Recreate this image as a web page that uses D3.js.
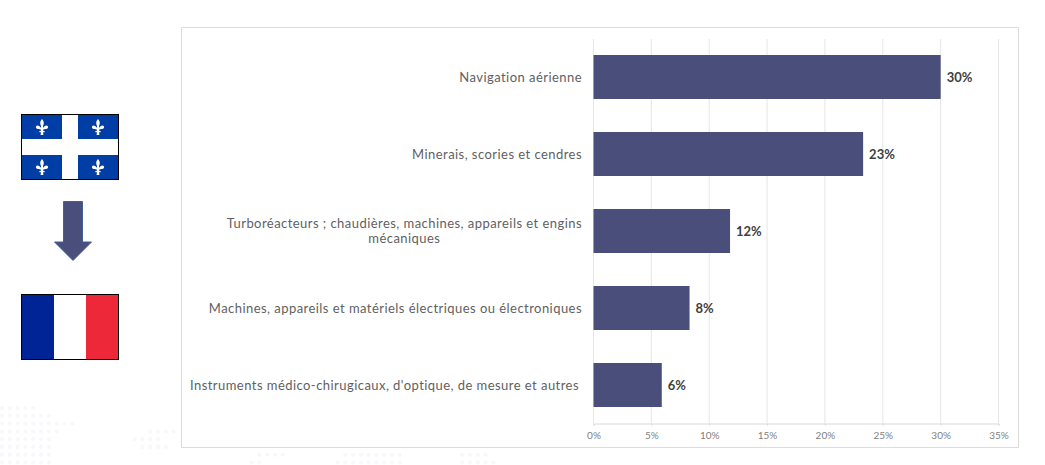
<!DOCTYPE html>
<html>
<head>
<meta charset="utf-8">
<script src="https://cdn.jsdelivr.net/npm/d3@7"></script>
<style>
  html, body { margin: 0; padding: 0; background: #fff; }
  svg { display: block; font-family: Lato, "Open Sans", sans-serif; }
</style>
</head>
<body>
<div id="chart"></div>
<script>
// Chart data
const categories = [
  "Navigation aérienne",
  "Minerais, scories et cendres",
  "Turboréacteurs ; chaudières, machines, appareils et engins mécaniques",
  "Machines, appareils et matériels électriques ou électroniques",
  "Instruments médico-chirugicaux, d'optique, de mesure et autres"
];
const shares = [0.30, 0.233, 0.118, 0.083, 0.059];
const xTicks = [0, 0.05, 0.10, 0.15, 0.20, 0.25, 0.30, 0.35];

// faint dotted decoration behind the page: [row, first dot, last dot]
const dotRows = [
  [0, 0, 4], [1, 0, 6], [2, 0, 9], [3, 0, 7], [4, 0, 6], [5, 0, 6], [6, 0, 6], [7, 0, 6],
  [3, 19, 22], [4, 17, 20], [5, 18, 21],
  [6, 33, 36], [7, 32, 33], [6, 44, 51], [7, 43, 51], [6, 59, 62], [7, 59, 63]
];

const width = 1045, height = 465;
const svg = d3.select("#chart").append("svg").attr("width", width).attr("height", height);

// Decoration
const dots = dotRows.flatMap(([r, a, b]) => d3.range(a, b + 1).map(i => [i, r]));
svg.append("g").selectAll("circle").data(dots).join("circle")
  .attr("cx", d => 2 + d[0] * 7.8)
  .attr("cy", d => 408 + d[1] * 7.8)
  .attr("r", 2)
  .attr("fill", "#f7f7fc");

// Flags and arrow on the left
const flags = svg.append("g");
const fleur = "M0,-8 C2.2,-5.5 2.2,-3.5 1,-1 L1,1 C2,-1 5,-2.5 6,-0.5 C6.6,1 5,2.5 3.5,2 L1.2,2.6 L1.2,4 L2.6,4 L2.6,5.2 L1,5.2 L1.4,8 L-1.4,8 L-1,5.2 L-2.6,5.2 L-2.6,4 L-1.2,4 L-1.2,2.6 L-3.5,2 C-5,2.5 -6.6,1 -6,-0.5 C-5,-2.5 -2,-1 -1,1 L-1,-1 C-2.2,-3.5 -2.2,-5.5 0,-8 Z";

flags.append("rect").attr("x", 21.5).attr("y", 114.5).attr("width", 97).attr("height", 65).attr("fill", "#003da5");
flags.append("rect").attr("x", 62).attr("y", 114.5).attr("width", 16).attr("height", 65).attr("fill", "#fff");
flags.append("rect").attr("x", 21.5).attr("y", 139).attr("width", 97).attr("height", 16).attr("fill", "#fff");
for (const cx of [42, 98]) {
  for (const cy of [127, 167]) {
    flags.append("path").attr("d", fleur).attr("transform", `translate(${cx},${cy})`).attr("fill", "#fff");
  }
}
flags.append("rect").attr("x", 21.5).attr("y", 114.5).attr("width", 97).attr("height", 65)
  .attr("fill", "none").attr("stroke", "#000");

flags.append("path")
  .attr("d", "M63.5,201.5 H82.5 V242 H91.5 L73,260.5 L54.5,242 H63.5 Z")
  .attr("fill", "#4a4e7a").attr("stroke", "#41609a");

flags.append("rect").attr("x", 21.5).attr("y", 294.5).attr("width", 32.5).attr("height", 65).attr("fill", "#002395");
flags.append("rect").attr("x", 86).attr("y", 294.5).attr("width", 32.5).attr("height", 65).attr("fill", "#ed2939");
flags.append("rect").attr("x", 21.5).attr("y", 294.5).attr("width", 97).attr("height", 65)
  .attr("fill", "none").attr("stroke", "#000");

// Chart panel
svg.append("rect").attr("x", 181.5).attr("y", 27.5).attr("width", 837).attr("height", 420)
  .attr("fill", "#fff").attr("stroke", "#dcdcdc");

const x = d3.scaleLinear().domain([0, 0.35]).range([593.5, 998.5]);
const y = d3.scaleBand().domain(categories).range([38.5, 423.5]).paddingInner(33 / 77).paddingOuter(33 / 154);

// Gridlines
svg.append("g").selectAll("line").data(xTicks).join("line")
  .attr("x1", d => x(d)).attr("x2", d => x(d))
  .attr("y1", 39).attr("y2", 423)
  .attr("stroke", "#e6e6e6");

// X axis
const xAxis = svg.append("g").attr("transform", "translate(0,423.5)")
  .call(d3.axisBottom(x).tickValues(xTicks).tickFormat(d3.format(".0%")).tickSize(2).tickPadding(6))
  .attr("font-family", null);
xAxis.selectAll("path, line").attr("stroke", "#d9d9d9");
xAxis.selectAll("text").attr("fill", "#7f7f7f").style("font-size", "10px");

// Bars
svg.append("g").selectAll("rect").data(categories).join("rect")
  .attr("x", x(0))
  .attr("y", d => y(d))
  .attr("width", (d, i) => x(shares[i]) - x(0))
  .attr("height", y.bandwidth())
  .attr("fill", "#4a4e7a");

// Value labels
svg.append("g").selectAll("text").data(categories).join("text")
  .attr("x", (d, i) => x(shares[i]) + 6)
  .attr("y", d => y(d) + y.bandwidth() / 2)
  .attr("dy", "0.35em")
  .attr("fill", "#404040")
  .style("font-size", "13px")
  .style("font-weight", 700)
  .text((d, i) => d3.format(".0%")(shares[i]));

// Category labels; the long one wraps, second line centred under the first
const labelStyle = s => s.attr("fill", "#5f5f5f").style("font-size", "13px").style("letter-spacing", "0.45px");
const wrapWord = "mécaniques";
categories.forEach((c, i) => {
  const cy = y(c) + y.bandwidth() / 2;
  const right = i === 4 ? 579 : 582;
  if (c.endsWith(" " + wrapWord)) {
    const first = svg.append("text").attr("x", right).attr("y", cy - 8).attr("dy", "0.35em")
      .attr("text-anchor", "end").call(labelStyle).text(c.slice(0, -wrapWord.length - 1));
    const w = first.node().getComputedTextLength();
    svg.append("text").attr("x", right - w / 2).attr("y", cy + 7).attr("dy", "0.35em")
      .attr("text-anchor", "middle").call(labelStyle).text(wrapWord);
  } else {
    svg.append("text").attr("x", right).attr("y", cy).attr("dy", "0.35em")
      .attr("text-anchor", "end").call(labelStyle).text(c);
  }
});
</script>
</body>
</html>
